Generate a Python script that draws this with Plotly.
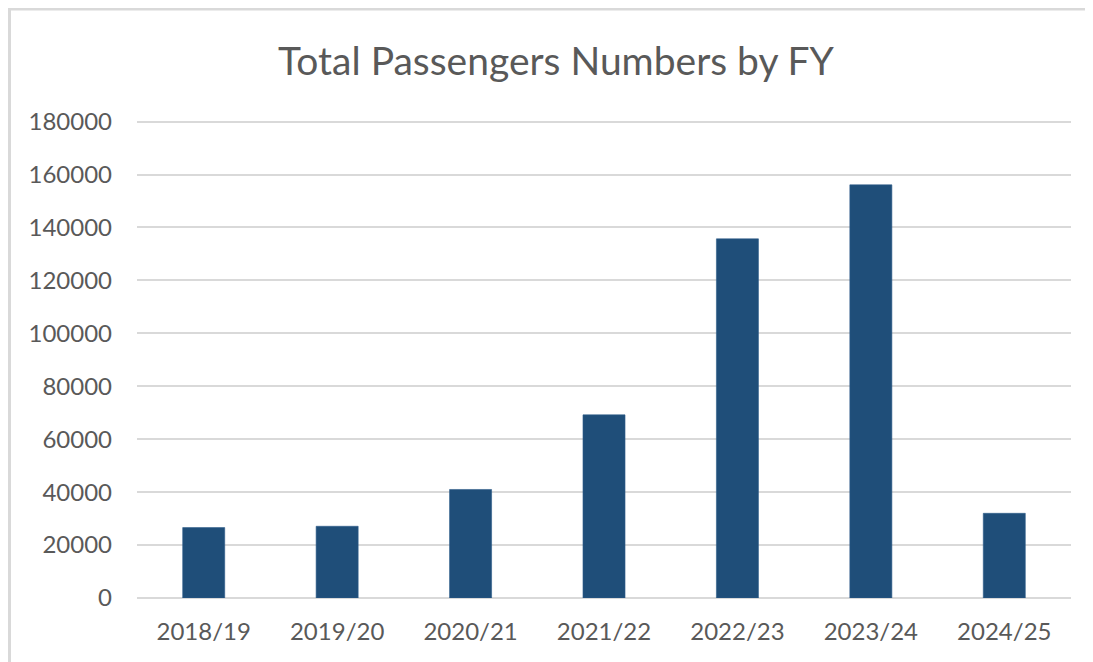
import plotly.graph_objects as go

categories = ["2018/19", "2019/20", "2020/21", "2021/22", "2022/23", "2023/24", "2024/25"]
passengers = [26600, 27100, 41000, 69200, 135700, 156100, 32000]
y_ticks = [0, 20000, 40000, 60000, 80000, 100000, 120000, 140000, 160000, 180000]

# page has an 8px body margin, so figure coordinates = reference coordinates - 8
OFF = 8
W, H = 1093 - OFF, 662 - OFF
YMAX = 180600
plot_left, plot_right = 137 - OFF, 1071 - OFF
zero_y = 598 - OFF
px_per_unit = (598 - 122) / 180000
plot_top = zero_y - YMAX * px_per_unit
L, R, T, B = plot_left, W - plot_right, plot_top, H - zero_y
pw, ph = W - L - R, H - T - B

fig = go.Figure(go.Bar(
    x=categories, y=passengers,
    marker=dict(color="#1f4e79", line=dict(color="#2e5c8a", width=0.6)),
    hoverinfo="x+y",
))

fig.update_layout(
    width=W, height=H,
    margin=dict(l=L, r=R, t=T, b=B, autoexpand=False),
    paper_bgcolor="white", plot_bgcolor="white",
    bargap=0.685,
    showlegend=False,
    font=dict(family="Lato, Carlito, sans-serif", color="#595959"),
    title=dict(text="Total Passengers Numbers by FY", x=(556 - OFF) / W, xref="container",
               xanchor="center", y=1 - (61 - OFF) / H, yanchor="middle",
               font=dict(size=39, color="#595959", family="Lato, sans-serif")),
    xaxis=dict(showgrid=False, showline=False, zeroline=False, ticks="",
               tickfont=dict(size=24, color="#595959"), ticklabelstandoff=17,
               fixedrange=True),
    yaxis=dict(range=[0, YMAX], tickvals=y_ticks, ticktext=[str(v) for v in y_ticks],
               showgrid=True, gridcolor="#d9d9d9", gridwidth=2, zeroline=True,
               zerolinecolor="#d9d9d9", zerolinewidth=2, showline=False, ticks="",
               tickfont=dict(size=24, color="#595959"), ticklabelstandoff=24,
               fixedrange=True),
    shapes=[
        dict(type="line", xref="paper", yref="paper",
             x0=(0 - L) / pw, x1=(W + 20 - L) / pw,
             y0=(H - B - 1.5) / ph, y1=(H - B - 1.5) / ph,
             line=dict(color="#d9d9d9", width=3)),
        dict(type="line", xref="paper", yref="paper",
             x0=(1.5 - L) / pw, x1=(1.5 - L) / pw,
             y0=(H - B - 0) / ph, y1=-0.3,
             line=dict(color="#d9d9d9", width=3)),
    ],
)

fig.write_html("out.html")
